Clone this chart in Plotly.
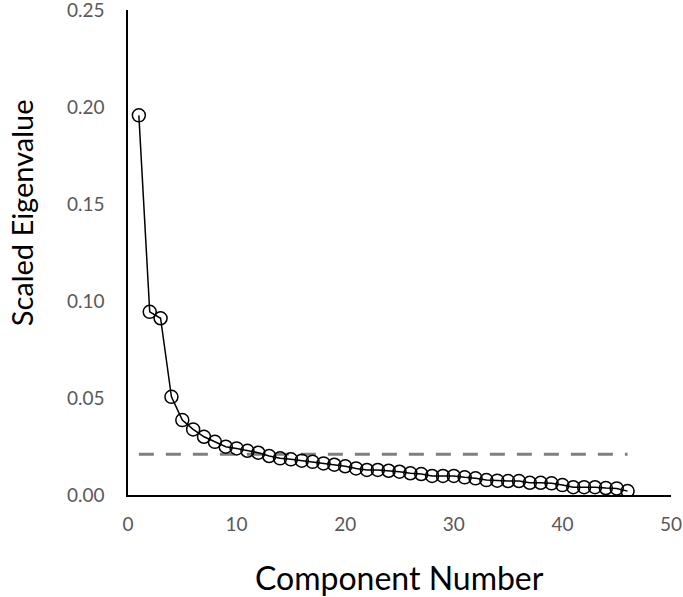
import plotly.graph_objects as go

components = list(range(1, 47))
eigenvalues = [
    0.1957, 0.0944, 0.0911, 0.0506, 0.0386, 0.0338, 0.0300, 0.0274, 0.0249, 0.0240,
    0.0228, 0.0218, 0.0201, 0.0189, 0.0184, 0.0177, 0.0171, 0.0163, 0.0156, 0.0148,
    0.0137, 0.0129, 0.0129, 0.0125, 0.0120, 0.0112, 0.0108, 0.0098, 0.0098, 0.0098,
    0.0091, 0.0086, 0.0077, 0.0074, 0.0072, 0.0072, 0.0063, 0.0063, 0.0060, 0.0051,
    0.0040, 0.0040, 0.0040, 0.0036, 0.0034, 0.0020,
]
threshold_x = [1, 46]
threshold_y = [0.021, 0.021]

x_ticks = [0, 10, 20, 30, 40, 50]
y_ticks = [0.00, 0.05, 0.10, 0.15, 0.20, 0.25]
y_tick_labels = ["0.00", "0.05", "0.10", "0.15", "0.20", "0.25"]

FONT = "Lato"
GRAY = "#595959"

fig = go.Figure()
fig.add_trace(go.Scatter(
    x=threshold_x, y=threshold_y, mode="lines",
    line=dict(color="#808080", width=3, dash="15px,12px"),
    hoverinfo="skip", showlegend=False,
))
fig.add_trace(go.Scatter(
    x=components, y=eigenvalues, mode="lines+markers",
    line=dict(color="black", width=1.5),
    marker=dict(symbol="circle-open", size=13, color="black", line=dict(width=1.5)),
    showlegend=False,
))

fig.update_layout(
    width=683, height=597,
    margin=dict(l=128, r=12, t=10, b=102),
    paper_bgcolor="white", plot_bgcolor="white",
    font=dict(family=FONT, color=GRAY, size=19),
    xaxis=dict(
        range=[0, 50.0001], tickvals=x_ticks, showgrid=False, zeroline=False,
        showline=True, linecolor="black", linewidth=1.5,
        ticks="outside", ticklen=11, tickcolor="rgba(0,0,0,0)",
        ticklabeloverflow="allow", automargin=False,
        tickfont=dict(family=FONT, color=GRAY, size=19),
    ),
    yaxis=dict(
        range=[0, 0.25001], tickvals=y_ticks, ticktext=y_tick_labels,
        showgrid=False, zeroline=False,
        showline=True, linecolor="black", linewidth=1.5,
        ticks="outside", ticklen=18, tickcolor="rgba(0,0,0,0)",
        ticklabeloverflow="allow", automargin=False,
        tickfont=dict(family=FONT, color=GRAY, size=19),
    ),
    annotations=[
        dict(text="Component Number", xref="paper", yref="paper",
             x=0.5, y=-0.171, xanchor="center", yanchor="middle",
             showarrow=False, font=dict(family=FONT, color="black", size=32)),
        dict(text="Scaled Eigenvalue", xref="paper", yref="paper",
             x=-0.197, y=0.581, xanchor="center", yanchor="middle", textangle=-90,
             showarrow=False, font=dict(family=FONT, color="black", size=29)),
    ],
)

fig.write_html("out.html", config={"displayModeBar": False},
               post_script="document.body.style.margin='0';")
